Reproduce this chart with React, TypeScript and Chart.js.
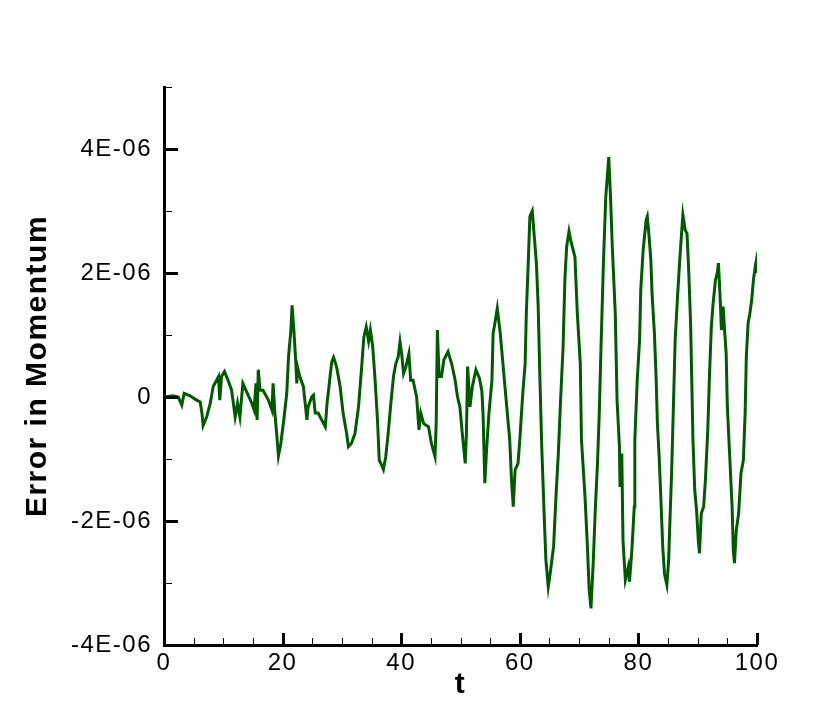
import React, { useEffect, useRef } from 'react';
import { Chart, registerables } from 'chart.js';

Chart.register(...registerables);

// time values (t)
const times = [
  0, 1.5, 2.4, 3.0, 3.4, 4.4, 5.5, 6.1, 6.4, 6.6, 7.2, 7.8, 8.3, 9.2, 9.4, 9.7,
  10.2, 10.8, 11.4, 12.0, 12.4, 12.8, 13.3, 13.9, 14.8, 15.2, 15.5, 15.7, 15.9,
  16.2, 16.7, 17.6, 18.2, 18.4, 18.7, 19.0, 19.3, 19.7, 20.2, 20.7, 21.0, 21.4,
  21.6, 21.9, 22.2, 22.4, 22.5, 22.9, 23.5, 24.1, 24.3, 24.9, 25.2, 25.5, 26.0,
  26.6, 27.2, 27.5, 27.8, 28.0, 28.3, 28.6, 29.1, 29.7, 30.2, 30.8, 31.1, 31.6,
  32.2, 32.8, 33.3, 33.7, 34.1, 34.5, 34.8, 35.2, 35.6, 36.0, 36.3, 36.7, 37.0,
  37.4, 37.8, 38.2, 38.7, 39.1, 39.5, 39.8, 40.1, 40.4, 40.8, 41.3, 41.6, 42.0,
  42.6, 43.0, 43.3, 43.8, 44.6, 45.1, 45.7, 45.9, 46.1, 46.4, 46.8, 47.2, 47.9,
  48.5, 49.1, 49.5, 49.9, 50.4, 50.8, 51.0, 51.2, 51.6, 52.0, 52.6, 53.2, 53.6,
  53.8, 54.1, 54.4, 54.8, 55.3, 55.5, 55.8, 56.2, 56.7, 57.2, 57.8, 58.3, 58.6,
  58.9, 59.2, 59.7, 60.0, 60.5, 60.9, 61.1, 61.4, 61.7, 62.1, 62.4, 62.8, 63.1,
  63.4, 63.7, 64.1, 64.4, 64.8, 65.2, 65.7, 66.1, 66.5, 66.9, 67.3, 67.6, 67.9,
  68.3, 68.7, 69.3, 69.7, 70.2, 70.4, 71.0, 71.4, 71.7, 72.0, 72.4, 72.7, 73.1,
  73.4, 73.7, 74.1, 74.5, 75.0, 75.3, 75.6, 76.1, 76.4, 76.8, 76.9, 77.2, 77.4,
  77.8, 78.3, 78.5, 78.9, 79.3, 79.4, 79.8, 80.2, 80.4, 80.8, 81.3, 81.5, 81.8,
  82.1, 82.3, 82.7, 83.0, 83.2, 83.5, 83.8, 84.1, 84.4, 84.8, 85.1, 85.3, 85.6,
  85.9, 86.2, 86.6, 86.9, 87.2, 87.5, 87.9, 88.2, 88.5, 88.8, 89.0, 89.2, 89.5,
  89.8, 90.1, 90.3, 90.6, 91.0, 91.3, 91.7, 92.0, 92.3, 92.6, 93.0, 93.3, 93.5,
  93.8, 94.0, 94.3, 94.5, 94.8, 95.0, 95.4, 95.8, 96.0, 96.2, 96.5, 96.9, 97.3,
  97.7, 98.0, 98.2, 98.5, 98.8, 99.1, 99.4, 99.7, 99.85, 100,
];

// error in momentum, in units of 1E-06
const momentumError = [
  0, 0.02, 0, -0.13, 0.06, 0.02, -0.05, -0.08, -0.26, -0.46, -0.32, -0.1, 0.17, 0.33, -0.05, 0.33,
  0.41, 0.27, 0.11, -0.32, -0.1, -0.32, 0.22, 0.09, -0.1, -0.21, 0.22, -0.37, 0.44,
  0.11, 0.11, -0.05, -0.21, 0.22, -0.26, -0.59, -0.95, -0.75, -0.37, 0.06, 0.65, 1.08,
  1.48, 1.08, 0.6, 0.22, 0.49, 0.33, 0.17, -0.37, -0.16, 0, 0.03, -0.26, -0.26,
  -0.37, -0.48, -0.1, 0.15, 0.33, 0.57, 0.64, 0.49, 0.17, -0.26, -0.59, -0.8, -0.75,
  -0.59, -0.16, 0.44, 0.97, 1.13, 0.9, 1.08, 0.81, 0.27, -0.37, -1.02, -1.1, -1.17,
  -0.96, -0.59, -0.16, 0.33, 0.54, 0.65, 0.89, 0.68, 0.38, 0.49, 0.7, 0.27, 0.27,
  0, -0.53, -0.26, -0.43, -0.48, -0.75, -0.96, -0.43, 1.08, 0.33, 0.33, 0.6, 0.73,
  0.54, 0.27, 0, -0.16, -0.69, -1.07, -0.59, 0.49, -0.16, 0.17, 0.44, 0.3, 0.1,
  -0.26, -1.39, -0.85, -0.26, 0.27, 1.03, 1.19, 1.43, 1.03, 0.49, -0.16, -0.69, -1.34,
  -1.77, -1.18, -1.07, -0.69, 0.06, 0.54, 1.35, 2.1, 2.91, 3.0, 2.64, 2.16, 1.46,
  0.27, -0.8, -1.88, -2.63, -3.06, -2.79, -2.41, -1.61, -0.91, 0, 0.81, 1.89, 2.42,
  2.67, 2.48, 2.26, 1.35, 0.54, -0.69, -1.61, -2.41, -3.11, -3.41, -2.63, -1.88, -1.07,
  -0.26, 0.81, 2.16, 3.23, 3.87, 3.23, 2.42, 1.35, -0.05, -0.8, -1.45, -0.91, -2.31,
  -2.95, -2.74, -2.98, -2.47, -1.77, -0.69, 0.27, 0.92, 1.73, 2.37, 2.85, 2.91, 2.59,
  2.21, 1.67, 1.03, 0.27, -0.42, -0.96, -1.66, -2.41, -2.85, -3.03, -2.63, -2.04, -1.23,
  -0.16, 0.92, 1.62, 2.1, 2.53, 2.94, 2.69, 2.64, 2.0, 1.19, 0.27, -0.69, -1.5,
  -1.82, -2.31, -2.52, -1.88, -1.77, -1.34, -0.53, 0.38, 1.13, 1.51, 1.89, 2.0, 2.16,
  1.56, 1.08, 1.46, 1.13, 0.7, -0.16, -0.96, -1.77, -2.47, -2.68, -2.15, -1.88, -1.23,
  -1.02, -0.26, 0.65, 1.19, 1.35, 1.56, 1.89, 2.1, 2.18, 2.0,
];

const xTickValues = [0, 20, 40, 60, 80, 100];
const xMinorTickValues = [5, 10, 15, 25, 30, 35, 45, 50, 55, 65, 70, 75, 85, 90, 95];
const yTickValues = [-4, -2, 0, 2, 4];
const yMinorTickValues = [-3, -1, 1, 3, 5];
const yTickLabels = ['-4E-06', '-2E-06', '0', '2E-06', '4E-06'];
const xTickLabels = ['0', '20', '40', '60', '80', '100'];
const xAxisTitle = 't';
const yAxisTitle = 'Error in Momentum';

const FONT = "'Liberation Sans', Arial, Helvetica, sans-serif";
const LINE_COLOR = '#005a00';

const spacingPlugin = {
  id: 'letterSpacing',
  beforeDraw(chart: any) {
    (chart.ctx as any).letterSpacing = '1.5px';
  },
  afterDraw(chart: any) {
    (chart.ctx as any).letterSpacing = '0px';
  },
};

const inwardTicksPlugin = {
  id: 'inwardTicks',
  afterDraw(chart: any) {
    const { ctx, chartArea } = chart;
    const xs = chart.scales.x;
    const ys = chart.scales.y;
    ctx.save();
    ctx.strokeStyle = '#000';
    ctx.lineCap = 'butt';
    ctx.lineWidth = 1;
    yMinorTickValues.forEach((v) => {
      const py = Math.round(ys.getPixelForValue(v)) + 0.5;
      ctx.beginPath();
      ctx.moveTo(chartArea.left, py);
      ctx.lineTo(chartArea.left + 8, py);
      ctx.stroke();
    });
    xMinorTickValues.forEach((v) => {
      const px = Math.round(xs.getPixelForValue(v)) + 0.5;
      ctx.beginPath();
      ctx.moveTo(px, chartArea.bottom);
      ctx.lineTo(px, chartArea.bottom - 7);
      ctx.stroke();
    });
    ctx.lineWidth = 3;
    yTickValues.forEach((v) => {
      const py = Math.round(ys.getPixelForValue(v)) + 0.5;
      ctx.beginPath();
      ctx.moveTo(chartArea.left, py);
      ctx.lineTo(chartArea.left + 14, py);
      ctx.stroke();
    });
    xTickValues.forEach((v) => {
      const px = Math.round(xs.getPixelForValue(v)) + 0.5;
      ctx.beginPath();
      ctx.moveTo(px, chartArea.bottom);
      ctx.lineTo(px, chartArea.bottom - 12);
      ctx.stroke();
    });
    ctx.restore();
  },
};

export default function App() {
  const canvasRef = useRef<HTMLCanvasElement | null>(null);

  useEffect(() => {
    if (!canvasRef.current) return;
    const points = times.map((t, i) => ({ x: t, y: momentumError[i] }));
    const chart = new Chart(canvasRef.current, {
      type: 'line',
      data: {
        datasets: [
          {
            data: points,
            borderColor: LINE_COLOR,
            borderWidth: 3,
            pointRadius: 0,
            tension: 0,
            fill: false,
          },
        ],
      },
      options: {
        animation: false,
        responsive: false,
        events: [],
        layout: { padding: { top: 87, right: 61, left: 0, bottom: 0 } },
        plugins: {
          legend: { display: false },
          tooltip: { enabled: false },
        },
        scales: {
          x: {
            type: 'linear',
            min: 0,
            max: 100,
            afterFit: (scale: any) => {
              scale.height = 82;
            },
            afterBuildTicks: (scale: any) => {
              scale.ticks = xTickValues.map((v) => ({ value: v }));
            },
            grid: { display: false, drawTicks: false },
            border: { display: true, color: '#000', width: 3 },
            ticks: {
              autoSkip: false,
              maxRotation: 0,
              padding: 4,
              color: '#000',
              font: { family: FONT, size: 24 },
              callback: (v: any) => {
                const i = xTickValues.indexOf(Number(v));
                return i >= 0 ? xTickLabels[i] : '';
              },
            },
            title: {
              display: true,
              text: xAxisTitle,
              color: '#000',
              font: { family: FONT, size: 30, weight: 'bold' },
              padding: { top: 0, bottom: 24 },
            },
          },
          y: {
            type: 'linear',
            min: -4,
            max: 5,
            afterFit: (scale: any) => {
              scale.width = 164;
            },
            afterBuildTicks: (scale: any) => {
              scale.ticks = yTickValues.map((v) => ({ value: v }));
            },
            grid: { display: false, drawTicks: false },
            border: { display: true, color: '#000', width: 3 },
            ticks: {
              autoSkip: false,
              padding: 12,
              color: '#000',
              font: { family: FONT, size: 24 },
              callback: (v: any) => {
                const i = yTickValues.indexOf(Number(v));
                return i >= 0 ? yTickLabels[i] : '';
              },
            },
            title: {
              display: true,
              text: yAxisTitle,
              color: '#000',
              font: { family: FONT, size: 30, weight: 'bold' },
              padding: { top: 20, bottom: 0 },
            },
          },
        },
      } as any,
      plugins: [spacingPlugin, inwardTicksPlugin],
    });
    return () => chart.destroy();
  }, []);

  return (
    <div style={{ position: 'absolute', left: 0, top: 0, width: 818, height: 727, background: '#fff' }}>
      <canvas ref={canvasRef} width={818} height={727} style={{ display: 'block', width: 818, height: 727 }} />
    </div>
  );
}
